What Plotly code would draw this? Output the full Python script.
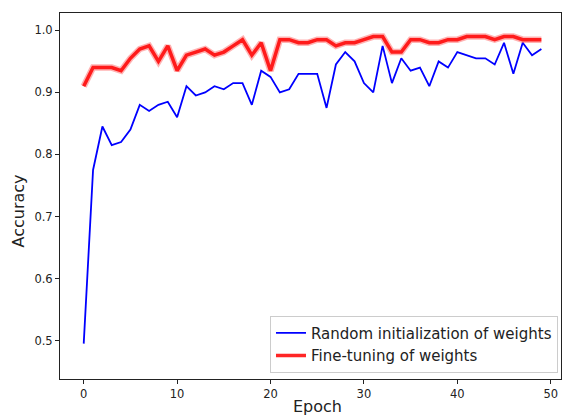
import plotly.graph_objects as go

epochs = list(range(50))
random_init = [0.495, 0.775, 0.845, 0.815, 0.82, 0.84, 0.88, 0.87, 0.88, 0.885,
               0.86, 0.91, 0.895, 0.90, 0.91, 0.905, 0.915, 0.915, 0.88, 0.935,
               0.925, 0.90, 0.905, 0.93, 0.93, 0.93, 0.875, 0.945, 0.965, 0.95,
               0.915, 0.90, 0.975, 0.915, 0.955, 0.935, 0.94, 0.91, 0.95, 0.94,
               0.965, 0.96, 0.955, 0.955, 0.945, 0.98, 0.93, 0.98, 0.96, 0.97]
fine_tune = [0.91, 0.94, 0.94, 0.94, 0.935, 0.955, 0.97, 0.975, 0.95, 0.975,
             0.935, 0.96, 0.965, 0.97, 0.96, 0.965, 0.975, 0.985, 0.96, 0.98,
             0.935, 0.985, 0.985, 0.98, 0.98, 0.985, 0.985, 0.975, 0.98, 0.98,
             0.985, 0.99, 0.99, 0.965, 0.965, 0.985, 0.985, 0.98, 0.98, 0.985,
             0.985, 0.99, 0.99, 0.99, 0.985, 0.99, 0.99, 0.985, 0.985, 0.985]
xticks = [0, 10, 20, 30, 40, 50]
yticks = [0.5, 0.6, 0.7, 0.8, 0.9, 1.0]

FONT = "DejaVu Sans"

fig = go.Figure()
fig.add_trace(go.Scatter(x=epochs, y=random_init, mode="lines",
                         line=dict(color="#0000ff", width=1.8),
                         name="Random initialization of weights"))
fig.add_trace(go.Scatter(x=epochs, y=fine_tune, mode="lines",
                         line=dict(color="rgba(255,0,0,0.3)", width=6.5),
                         showlegend=False, hoverinfo="skip"))
fig.add_trace(go.Scatter(x=epochs, y=fine_tune, mode="lines",
                         line=dict(color="rgba(255,0,0,0.85)", width=3.5),
                         name="Fine-tuning of weights"))

axis_common = dict(showline=True, linecolor="#222", linewidth=1, mirror=True,
                   ticks="outside", ticklen=4, tickcolor="#222", showgrid=False,
                   zeroline=False, tickfont=dict(family=FONT, size=11.5, color="#222"))

fig.update_xaxes(range=[-2.54, 51.1], tickvals=xticks,
                 ticktext=[str(t) for t in xticks], **axis_common)
fig.update_yaxes(range=[0.438, 1.028], tickvals=yticks,
                 ticktext=[f"{t:.1f}" for t in yticks], **axis_common)

fig.update_layout(
    width=564, height=415,
    margin=dict(l=60, r=3, t=13, b=36),
    paper_bgcolor="white", plot_bgcolor="white",
    font=dict(family=FONT, color="#222"),
    legend=dict(x=0.994, y=0.0172, xanchor="right", yanchor="bottom",
                bgcolor="white", bordercolor="#cccccc", borderwidth=1,
                font=dict(family=FONT, size=15, color="#222"),
                tracegroupgap=0, itemwidth=30),
    annotations=[
        dict(text="Epoch", x=0.513, y=-0.076, xref="paper", yref="paper",
             xanchor="center", yanchor="middle", showarrow=False,
             font=dict(family=FONT, size=16, color="#222")),
        dict(text="Accuracy", x=-0.0832, y=0.4586, xref="paper", yref="paper",
             xanchor="center", yanchor="middle", showarrow=False, textangle=-90,
             font=dict(family=FONT, size=16, color="#222")),
    ],
)

fig.write_html("out.html")
